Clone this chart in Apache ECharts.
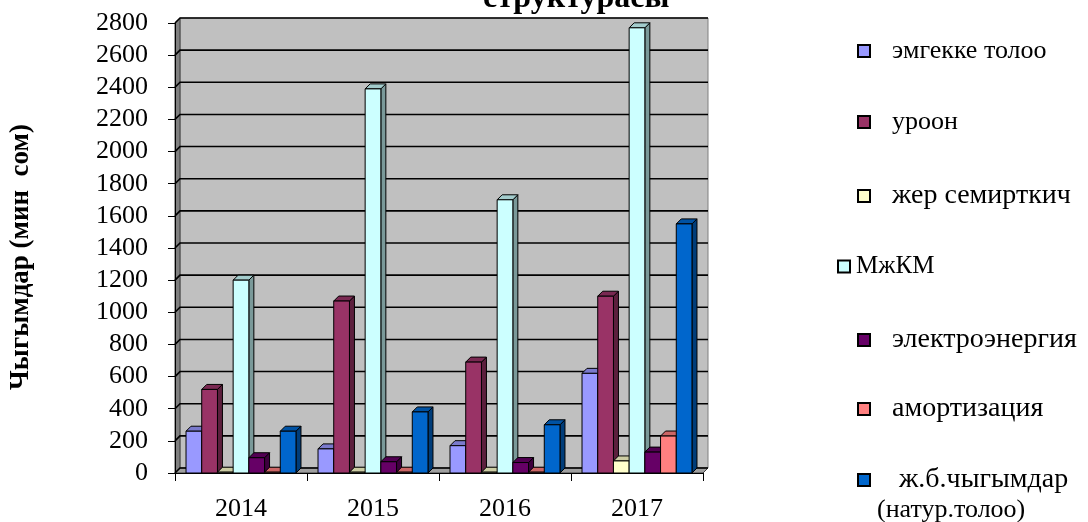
<!DOCTYPE html>
<html><head><meta charset="utf-8">
<script src="https://cdn.jsdelivr.net/npm/echarts@6/dist/echarts.min.js"></script>
<style>html,body{margin:0;padding:0;background:#fff}#c{width:1088px;height:522px}</style>
</head><body><div id="c"></div>
<script>
const categories = ['2014', '2015', '2016', '2017'];
const seriesNames = ['эмгекке толоо', 'уроон', 'жер семирткич', 'МжКМ', 'электроэнергия', 'амортизация', 'ж.б.чыгымдар (натур.толоо)'];
const emgekke = [260, 150, 170, 620];
const uroon = [520, 1070, 690, 1100];
const jer = [5, 5, 5, 75];
const mjkm = [1200, 2390, 1700, 2770];
const elektro = [95, 70, 65, 130];
const amort = [5, 5, 5, 230];
const jb = [260, 380, 300, 1550];
const yTicks = [0, 200, 400, 600, 800, 1000, 1200, 1400, 1600, 1800, 2000, 2200, 2400, 2600, 2800];
const titleText = 'структурасы';
const yAxisName = 'Чыгымдар (мин  сом)';
const colors = ['#9999FF', '#993366', '#FFFFCC', '#CCFFFF', '#660066', '#FF8080', '#0066CC'];
const seriesValues = [emgekke, uroon, jer, mjkm, elektro, amort, jb];

const FONT = '"Liberation Serif", "DejaVu Serif", serif';
const DX = 5, DY = -5;

function shade(hex, f) {
  const n = parseInt(hex.slice(1), 16);
  const r = Math.round(((n >> 16) & 255) * f), g = Math.round(((n >> 8) & 255) * f), b = Math.round((n & 255) * f);
  return 'rgb(' + r + ',' + g + ',' + b + ')';
}

function barRender(si) {
  return function (params, api) {
    const cat = api.value(0), v = api.value(1);
    const band = api.size([1, 0])[0];
    const p0 = api.coord([cat, 0]);
    const p1 = api.coord([cat, v]);
    const base = p0[1], top = p1[1];
    const pitch = band * 0.119;
    const x0 = p0[0] - band / 2 + (band - 7 * pitch) / 2 + si * pitch;
    const x1 = x0 + pitch;
    const c = colors[si];
    return {
      type: 'group',
      children: [
        { type: 'polygon', shape: { points: [[x1, top], [x1 + DX, top + DY], [x1 + DX, base + DY], [x1, base]] },
          style: { fill: shade(c, 0.6), stroke: '#000', lineWidth: 1 } },
        { type: 'polygon', shape: { points: [[x0, top], [x0 + DX, top + DY], [x1 + DX, top + DY], [x1, top]] },
          style: { fill: shade(c, 0.8), stroke: '#000', lineWidth: 1 } },
        { type: 'rect', shape: { x: x0, y: top, width: pitch, height: base - top },
          style: { fill: c, stroke: '#000', lineWidth: 1 } }
      ]
    };
  };
}

function wallRender(params, api) {
  const cs = params.coordSys;
  const x = cs.x, y = cs.y, w = cs.width, h = cs.height;
  const base = y + h;
  const children = [
    { type: 'polygon', shape: { points: [[x + DX, y + DY], [x + w + DX, y + DY], [x + w + DX, base + DY], [x + DX, base + DY]] },
      style: { fill: '#C0C0C0', stroke: '#808080', lineWidth: 1 } },
    { type: 'polygon', shape: { points: [[x, y], [x + DX, y + DY], [x + DX, base + DY], [x, base]] },
      style: { fill: '#808080', stroke: '#404040', lineWidth: 1 } },
    { type: 'polygon', shape: { points: [[x, base], [x + DX, base + DY], [x + w + DX, base + DY], [x + w, base]] },
      style: { fill: '#A0A0A0', stroke: '#404040', lineWidth: 1 } }
  ];
  yTicks.forEach(function (t) {
    const ty = api.coord([0, t])[1];
    children.push({ type: 'polyline', shape: { points: [[x, ty], [x + DX, ty + DY], [x + w + DX, ty + DY]] },
      style: { stroke: '#000', lineWidth: 1.6, fill: null } });
  });
  return { type: 'group', children: children };
}

const series = [{
  type: 'custom', name: '__wall', silent: true, z: 1, renderItem: wallRender, data: [[0, 0]]
}];
seriesNames.forEach(function (n, i) {
  series.push({
    type: 'custom', name: n, z: 2 + i,
    itemStyle: { color: colors[i], borderColor: '#000', borderWidth: 2 },
    renderItem: barRender(i),
    encode: { x: 0, y: 1 },
    data: seriesValues[i].map(function (v, k) { return [k, v]; })
  });
});

const legendCenters = [53, 124, 197, 269, 341, 410, 481];
const legendLefts = [857, 857, 857, 837, 857, 857, 857];
const legendPads = [17, 17, 17, 1, 17, 17, 24];
const legendSizes = [26, 26, 28, 25, 28, 28, 28];
const legends = seriesNames.map(function (n, i) {
  return {
    data: [n], left: legendLefts[i], top: legendCenters[i] - 15, orient: 'vertical',
    itemWidth: 12, itemHeight: 12, icon: 'rect', padding: 0, selectedMode: false,
    itemStyle: { borderColor: '#000', borderWidth: 2 },
    formatter: function (name) { return i === 6 ? 'ж.б.чыгымдар' : name; },
    textStyle: { fontFamily: FONT, fontSize: legendSizes[i], color: '#000', padding: [0, 0, 0, legendPads[i]] }
  };
});

const chart = echarts.init(document.getElementById('c'), null, { renderer: 'canvas' });
chart.setOption({
  animation: false,
  backgroundColor: '#fff',
  title: { text: titleText, left: 483, top: -17, padding: 0,
    textStyle: { fontFamily: FONT, fontSize: 32, fontWeight: 'bold', color: '#000' } },
  legend: legends,
  graphic: [{ type: 'text', left: 877, top: 497,
    style: { text: '(натур.толоо)', font: '26px ' + FONT, fill: '#000' } }],
  grid: { left: 175, right: 385, top: 23, bottom: 43, containLabel: false },
  xAxis: {
    type: 'category', data: categories, z: 10,
    axisLine: { lineStyle: { color: '#000', width: 1 } },
    axisTick: { show: true, length: 8, lineStyle: { color: '#000' } },
    axisLabel: { fontFamily: FONT, fontSize: 26, color: '#000', margin: 23 }
  },
  yAxis: {
    type: 'value', min: 0, max: 2800, interval: 200, z: 10,
    name: yAxisName, nameLocation: 'middle', nameRotate: 90, nameGap: 140,
    nameTextStyle: { fontFamily: FONT, fontSize: 27, fontWeight: 'bold', color: '#000', padding: [0, 18, 0, 0] },
    axisLine: { show: true, lineStyle: { color: '#000', width: 1 } },
    axisTick: { show: true, length: 7, lineStyle: { color: '#000' } },
    axisLabel: { fontFamily: FONT, fontSize: 26, color: '#000', margin: 27, formatter: function (v) { return String(v); } },
    splitLine: { show: false }
  },
  series: series
});
</script></body></html>
